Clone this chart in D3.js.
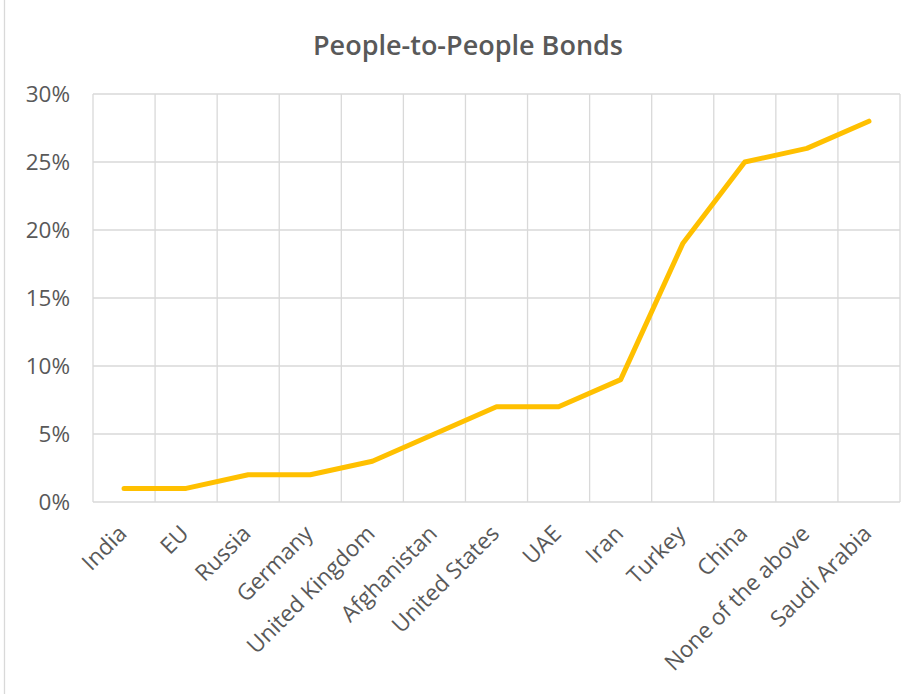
<!DOCTYPE html>
<html><head><meta charset="utf-8">
<script src="https://cdn.jsdelivr.net/npm/d3@7"></script>
<style>body{margin:0;background:#fff}svg{display:block}</style>
</head><body>
<script>
const categories = ["India","EU","Russia","Germany","United Kingdom","Afghanistan","United States","UAE","Iran","Turkey","China","None of the above","Saudi Arabia"];
const values = [0.01,0.01,0.02,0.02,0.03,0.05,0.07,0.07,0.09,0.19,0.25,0.26,0.28];
const yTicks = [0,0.05,0.10,0.15,0.20,0.25,0.30];
const title = "People-to-People Bonds";

const W = 919, H = 694;
const m = {left:93, right:19, top:94, bottom:192};
const font = "'Open Sans', 'Noto Sans', sans-serif";
const svg = d3.select("body").append("svg").attr("width",W).attr("height",H);

svg.append("rect").attr("x",4.5).attr("y",-5).attr("width",W+5).attr("height",H+10).attr("fill","none").attr("stroke","#d9d9d9").attr("stroke-width",1.3);

const x = d3.scaleBand().domain(categories).range([m.left, W-m.right]);
const y = d3.scaleLinear().domain([0,0.30]).range([H-m.bottom, m.top]);

const g = svg.append("g");
g.selectAll(".hg").data(yTicks).join("line")
  .attr("x1",m.left).attr("x2",W-m.right).attr("y1",d=>y(d)).attr("y2",d=>y(d))
  .attr("stroke","#d9d9d9").attr("stroke-width",1.3);
const edges = categories.map(c=>x(c)).concat([x(categories[categories.length-1])+x.bandwidth()]);
g.selectAll(".vg").data(edges).join("line")
  .attr("x1",d=>d).attr("x2",d=>d).attr("y1",y(0.30)).attr("y2",y(0))
  .attr("stroke","#d9d9d9").attr("stroke-width",1.3);

const yAxis = d3.axisLeft(y).tickValues(yTicks).tickFormat(d3.format(".0%")).tickSize(0).tickPadding(23);
const ya = svg.append("g").attr("transform",`translate(${m.left},0)`).call(yAxis);
ya.select(".domain").remove();
ya.selectAll("text").attr("font-family",font).attr("font-size",22.5).attr("fill","#595959");

const xAxis = d3.axisBottom(x).tickSize(0).tickPadding(0);
const xa = svg.append("g").attr("transform",`translate(0,${y(0)})`).call(xAxis);
xa.select(".domain").remove();
xa.selectAll("text").attr("font-family",font).attr("font-size",22.5).attr("fill","#595959")
  .attr("text-anchor","end").attr("dy",null)
  .attr("transform","translate(4,33) rotate(-45)");

const line = d3.line().x((d,i)=>x(categories[i])+x.bandwidth()/2).y(d=>y(d));
svg.append("path").datum(values).attr("d",line).attr("fill","none")
  .attr("stroke","#FFC000").attr("stroke-width",5).attr("stroke-linecap","round").attr("stroke-linejoin","round");

svg.append("text").attr("x",468).attr("y",55).attr("text-anchor","middle")
  .attr("font-family",font).attr("font-size",27).attr("font-weight",600).attr("fill","#595959").text(title);
</script>
</body></html>
